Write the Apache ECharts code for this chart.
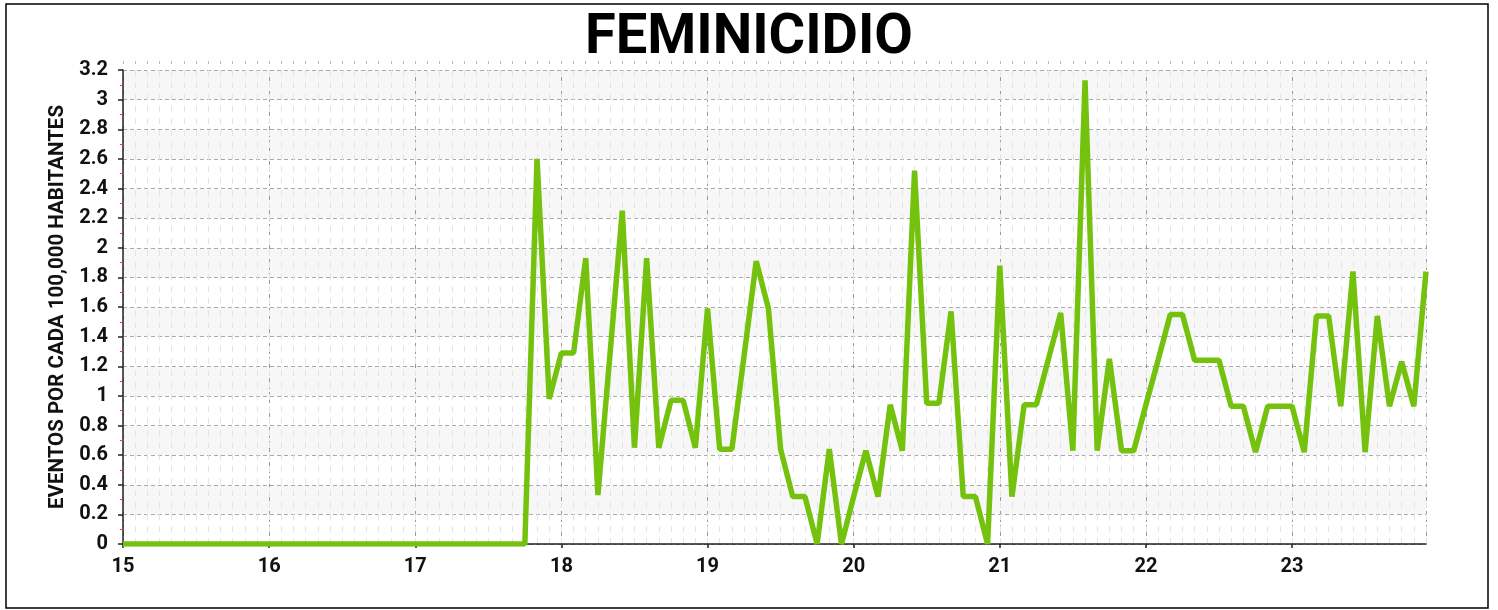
<!DOCTYPE html>
<html>
<head>
<meta charset="utf-8">
<title>Feminicidio</title>
<script src="https://cdn.jsdelivr.net/npm/echarts@6/dist/echarts.min.js"></script>
<style>
  html, body { margin: 0; padding: 0; background: #fff; }
  #chart { width: 1498px; height: 610px; }
</style>
</head>
<body>
<div id="chart"></div>
<script>
// monthly values, Jan 2015 .. Dec 2023 (index 0 = Jan 2015)
const firstYear = 15
const monthsPerYear = 12
const values = [
  0, 0, 0, 0, 0, 0, 0, 0, 0, 0, 0, 0,
  0, 0, 0, 0, 0, 0, 0, 0, 0, 0, 0, 0,
  0, 0, 0, 0, 0, 0, 0, 0, 0, 0, 2.60, 0.98,
  1.29, 1.29, 1.93, 0.33, 1.29, 2.25, 0.65, 1.93, 0.65, 0.97, 0.97, 0.65,
  1.59, 0.64, 0.64, 1.27, 1.91, 1.59, 0.64, 0.32, 0.32, 0, 0.64, 0,
  0.32, 0.63, 0.32, 0.94, 0.63, 2.52, 0.95, 0.95, 1.57, 0.32, 0.32, 0,
  1.88, 0.32, 0.94, 0.94, 1.25, 1.56, 0.63, 3.13, 0.63, 1.25, 0.63, 0.63,
  0.94, 1.24, 1.55, 1.55, 1.24, 1.24, 1.24, 0.93, 0.93, 0.62, 0.93, 0.93,
  0.93, 0.62, 1.54, 1.54, 0.93, 1.84, 0.62, 1.54, 0.93, 1.23, 0.93, 1.84
]
const yTicks = { min: 0, max: 3.2, step: 0.2 }

const lastIndex = values.length - 1
const font = 'Roboto, Liberation Sans, Arial, sans-serif'

const chart = echarts.init(document.getElementById('chart'))
chart.setOption({
  backgroundColor: '#fff',
  animation: false,
  title: {
    text: 'FEMINICIDIO',
    left: 'center',
    top: 6,
    textStyle: { fontFamily: font, fontWeight: 'bold', fontSize: 56, color: '#000' }
  },
  graphic: [{
    type: 'rect',
    shape: { x: 6, y: 4, width: 1482, height: 604 },
    style: { fill: 'none', stroke: '#000', lineWidth: 1.5 },
    silent: true
  }],
  grid: { left: 123, right: 72, top: 70, bottom: 66 },
  xAxis: [
    {
      // years
      type: 'value',
      min: 0,
      max: lastIndex,
      interval: monthsPerYear,
      offset: 9,
      axisLine: { lineStyle: { color: '#222', width: 1.5 } },
      axisTick: { length: 4, lineStyle: { color: '#222', width: 1.5 } },
      axisLabel: {
        margin: 4,
        fontFamily: font, fontWeight: 'bold', fontSize: 20, color: '#111',
        showMaxLabel: false,
        formatter: v => (v % monthsPerYear === 0 ? String(firstYear + v / monthsPerYear) : '')
      },
      splitLine: { show: true, lineStyle: { color: '#999', type: [4, 3], width: 1 } }
    },
    {
      // months (minor grid)
      type: 'value',
      min: 0,
      max: lastIndex,
      interval: 1,
      offset: 9,
      axisLine: { show: false },
      axisTick: { inside: true, length: 3, lineStyle: { color: '#bbb' } },
      axisLabel: { show: false },
      splitLine: { show: true, lineStyle: { color: '#e4e4e4', type: [6, 6], width: 1 } },
      z: 0
    }
  ],
  yAxis: {
    type: 'value',
    min: yTicks.min,
    max: yTicks.max,
    interval: yTicks.step,
    offset: 10,
    name: 'EVENTOS POR CADA 100,000 HABITANTES',
    nameLocation: 'middle',
    nameGap: 43,
    nameTextStyle: { fontFamily: font, fontWeight: 'bold', fontSize: 20.5, color: '#111' },
    axisLine: { show: true, lineStyle: { color: '#222', width: 1.5 } },
    axisTick: { show: true, length: 5, lineStyle: { color: '#222', width: 1.5 } },
    minorTick: { show: true, splitNumber: 2, length: 3, lineStyle: { color: '#f33' } },
    axisLabel: { margin: 5, fontFamily: font, fontWeight: 'bold', fontSize: 20, color: '#111' },
    splitLine: { show: true, lineStyle: { color: '#aaa', type: [4, 3], width: 1 } },
    splitArea: { show: true, areaStyle: { color: ['#ffffff', '#f7f7f7'] } }
  },
  series: [{
    type: 'line',
    xAxisIndex: 0,
    data: values.map((v, i) => [i, v]),
    symbol: 'none',
    lineStyle: { color: '#74c20e', width: 5.5 },
    z: 5
  }]
})
</script>
</body>
</html>
